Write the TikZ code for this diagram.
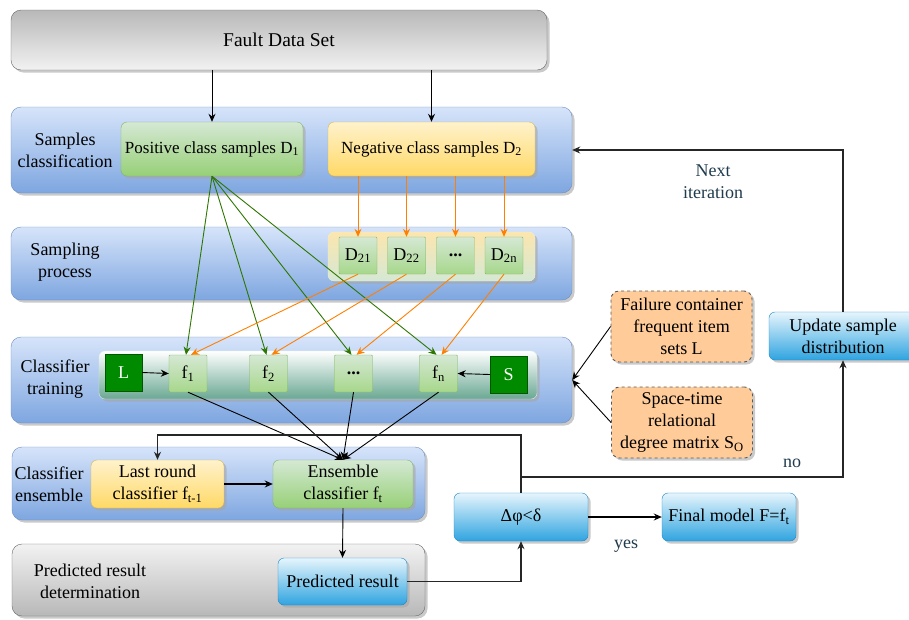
\documentclass[tikz,border=0pt]{standalone}
\usepackage{fontspec}
\setmainfont{Liberation Serif}
\usetikzlibrary{shadows,calc,arrows.meta}

\definecolor{bandtop}{HTML}{D6E4FA}
\definecolor{bandbot}{HTML}{7EA6E0}
\definecolor{bandline}{HTML}{6C8EBF}
\definecolor{graydark}{HTML}{B8B8B8}
\definecolor{graylight}{HTML}{F2F2F2}
\definecolor{grayline}{HTML}{666666}
\definecolor{greentop}{HTML}{D5E8D4}
\definecolor{greenbot}{HTML}{97D077}
\definecolor{greenline}{HTML}{82B366}
\definecolor{yellowtop}{HTML}{FFF2CC}
\definecolor{yellowbot}{HTML}{FFD966}
\definecolor{yellowline}{HTML}{D6B656}
\definecolor{skytop}{HTML}{E6F5FC}
\definecolor{skybot}{HTML}{2FA4E0}
\definecolor{skyline}{HTML}{1C86C6}
\definecolor{peach}{HTML}{FFCC99}
\definecolor{peachline}{HTML}{5A5A5A}
\definecolor{deepgreen}{HTML}{008A00}
\definecolor{deepgreenline}{HTML}{005700}
\definecolor{leafline}{HTML}{2D7600}
\definecolor{tangerine}{HTML}{FF8000}
\definecolor{slate}{HTML}{1F3B4D}
\definecolor{tealbot}{HTML}{6AA892}
\definecolor{sandtop}{HTML}{FCE6AE}

\begin{document}
\begin{tikzpicture}[x=1pt,y=-1pt,
  font=\rmfamily\fontsize{18}{22}\selectfont,
  shad/.style={drop shadow={shadow xshift=2.5pt,shadow yshift=-2.5pt,fill=black!35,opacity=0.6}},
  band/.style={rounded corners=10pt,draw=bandline,top color=bandtop,bottom color=bandbot,shad,inner sep=0pt},
  grayband/.style={rounded corners=10pt,draw=grayline,shad,inner sep=0pt},
  greenbox/.style={rounded corners=6pt,draw=greenline,top color=greentop,bottom color=greenbot,shad,inner sep=0pt,align=center},
  yellowbox/.style={rounded corners=6pt,draw=yellowline,top color=yellowtop,bottom color=yellowbot,shad,inner sep=0pt,align=center},
  skybox/.style={rounded corners=6pt,draw=skyline,top color=skytop,bottom color=skybot,shad,inner sep=0pt,align=center},
  cell/.style={rounded corners=1pt,draw=greenline,top color=greentop,bottom color=greenbot!85!white,inner sep=0pt,minimum width=38pt,minimum height=37pt},
  solid/.style={draw=deepgreenline,fill=deepgreen,text=white,inner sep=0pt,minimum width=37pt,minimum height=37pt},
  notebox/.style={rounded corners=8pt,draw=peachline,dashed,line width=0.9pt,fill=peach,shad,inner sep=0pt,align=center,minimum width=141pt,minimum height=71pt},
  bandlabel/.style={align=center,inner sep=0pt},
  edgelabel/.style={align=center,inner sep=0pt,text=slate},
  arr/.style={-{Stealth[length=8pt,width=7pt]},line width=0.9pt,black},
  garr/.style={-{Stealth[length=8pt,width=7pt]},line width=0.9pt,leafline},
  oarr/.style={-{Stealth[length=8pt,width=7pt]},line width=0.9pt,tangerine},
  fb/.style={line width=1.1pt,black!85},
  fbarr/.style={fb,-{Stealth[length=8pt,width=7pt]}}
]
\useasboundingbox (0,0) rectangle (909,619);

% ---------- bands ----------
\node[grayband,top color=graydark,bottom color=graylight,minimum width=536pt,minimum height=60pt,font=\rmfamily\fontsize{19.5}{23}\selectfont] (fault) at (279,40) {Fault Data Set};
\node[band,minimum width=561pt,minimum height=86pt] (sband) at (291.5,150) {};
\node[band,minimum width=561pt,minimum height=73pt] (pband) at (291.5,263.5) {};
\node[band,minimum width=561pt,minimum height=86pt] (tband) at (291.5,380) {};
\node[band,minimum width=413pt,minimum height=73pt] (eband) at (218.5,483.5) {};
\node[grayband,top color=graylight,bottom color=graydark,minimum width=413pt,minimum height=72pt] (rband) at (218.5,580) {};

% ---------- band captions ----------
\node[bandlabel] (lab1) at (65,150) {Samples\\classification};
\node[bandlabel] (lab2) at (65,262) {Sampling\\process};
\node[bandlabel] (lab3) at (55,379) {Classifier\\training};
\node[bandlabel] (lab4) at (49,484) {Classifier\\ensemble};
\node[bandlabel] (lab5) at (90,581) {Predicted result\\determination};

% ---------- samples classification ----------
\node[greenbox,minimum width=182pt,minimum height=54pt,font=\rmfamily\fontsize{17}{21}\selectfont] (pos) at (212,149) {Positive class samples D\textsubscript{1}};
\node[yellowbox,minimum width=207pt,minimum height=54pt,font=\rmfamily\fontsize{17}{21}\selectfont] (neg) at (431.5,149) {Negative class samples D\textsubscript{2}};

% ---------- sampling process ----------
\node[rounded corners=6pt,draw=yellowtop!70!greentop,top color=sandtop,bottom color=greentop,shad,minimum width=207pt,minimum height=49pt,inner sep=0pt] (pool) at (431.5,256.5) {};
\node[cell] (d1) at (358,255.5) {D\textsubscript{21}};
\node[cell] (d2) at (406.5,255.5) {D\textsubscript{22}};
\node[cell] (d3) at (455.5,255.5) {\textbf{...}};
\node[cell] (d4) at (504,255.5) {D\textsubscript{2n}};

% ---------- classifier training ----------
\node[rounded corners=6pt,draw=white!80!tealbot,top color=white,bottom color=tealbot,shad,minimum width=438pt,minimum height=48pt,inner sep=0pt] (rack) at (318,375) {};
\node[solid] (L) at (123.5,372.5) {L};
\node[cell] (f1) at (188,373.5) {f\textsubscript{1}};
\node[cell] (f2) at (268.5,373.5) {f\textsubscript{2}};
\node[cell] (f3) at (353.5,373.5) {\textbf{...}};
\node[cell] (f4) at (438.5,373.5) {f\textsubscript{n}};
\node[solid] (S) at (508.5,374.5) {S};

% ---------- classifier ensemble ----------
\node[yellowbox,minimum width=133pt,minimum height=48pt] (last) at (157.5,484) {Last round\\classifier f\textsubscript{t-1}};
\node[greenbox,minimum width=140pt,minimum height=48pt] (ens) at (343,484) {Ensemble\\classifier f\textsubscript{t}};

% ---------- prediction and decision ----------
\node[skybox,minimum width=129pt,minimum height=47pt] (pred) at (342.5,581.5) {Predicted result};
\node[skybox,minimum width=134pt,minimum height=48pt] (dphi) at (521,517) {Δφ<δ};
\node[skybox,minimum width=134pt,minimum height=48pt] (final) at (729,517) {Final model F=f\textsubscript{t}};
\node[skybox,minimum width=148pt,minimum height=48pt] (upd) at (843,336) {Update sample\\distribution};

% ---------- prior knowledge ----------
\node[notebox] (fail) at (681.5,326.5) {Failure container\\frequent item\\sets L};
\node[notebox] (st) at (682,422.5) {Space-time\\relational\\degree matrix S\textsubscript{O}};

% ---------- connectors ----------
\draw[arr] (pos.north |- fault.south) -- (pos.north);
\draw[arr] (neg.north |- fault.south) -- (neg.north);

\foreach \d in {d1,d2,d3,d4}
  \draw[oarr] (\d.north |- neg.south) -- (\d.north);

\foreach \f in {f1,f2,f3,f4}
  \draw[garr] (pos.south) -- ($(\f.north)+(-2,0)$);
\draw[oarr] (d1.south) -- ($(f1.north)+(3,0)$);
\draw[oarr] (d2.south) -- ($(f2.north)+(3,0)$);
\draw[oarr] (d3.south) -- ($(f3.north)+(3,0)$);
\draw[oarr] (d4.south) -- ($(f4.north)+(3,0)$);

\draw[arr] (L.east) -- (f1.west);
\draw[arr] (S.west) -- (f4.east);

\foreach \f in {f1,f2,f3,f4}
  \draw[arr] (\f.south) -- (ens.north);

\draw[arr,line width=1.5pt] (last.east) -- (ens.west);
\draw[arr] (ens.south) -- (pred.north);

\draw[arr] (fail.west) -- (tband.east);
\draw[arr] (st.west) -- (tband.east);

\coordinate (top) at (521,435);
\coordinate (nobranch) at (521,477);
\draw[fbarr] (pred.east) -| (dphi.south);
\draw[fbarr] (dphi.north) -- (top) -| (last.north);
\draw[fbarr] (nobranch) -| (upd.south);
\draw[fbarr] (upd.north) |- (sband.east);
\draw[arr,line width=1.5pt] (dphi.east) -- (final.west);

% ---------- connector labels ----------
\node[edgelabel] (nextlab) at (713,182) {Next\\iteration};
\node[edgelabel] (nolab) at (792,463) {no};
\node[edgelabel] (yeslab) at (626,546) {yes};
\end{tikzpicture}
\end{document}
